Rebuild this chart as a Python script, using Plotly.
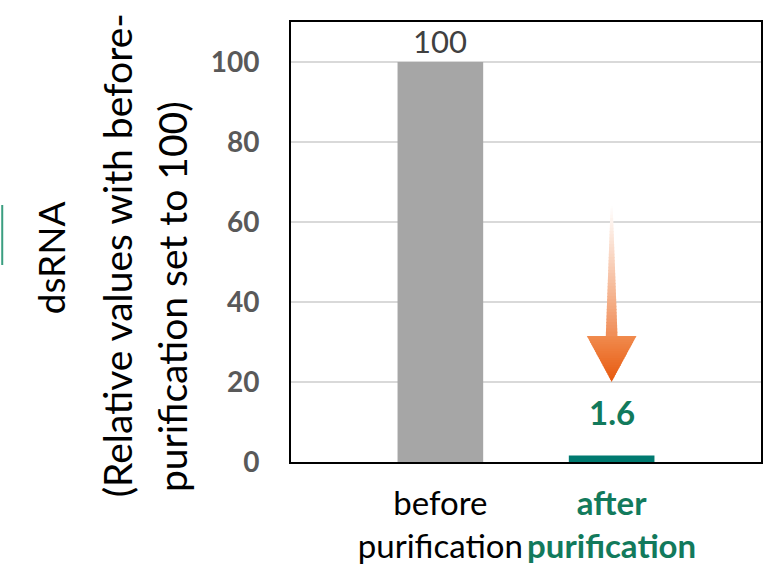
import plotly.graph_objects as go

categories = ["before<br>purification", "after<br>purification"]
values = [100, 1.6]
value_labels = ["100", "1.6"]
bar_colors = ["#A6A6A6", "#007A70"]
y_ticks = [0, 20, 40, 60, 80, 100]

GREEN = "#127A5C"
FONT = "Lato"

xpos = list(range(len(categories)))

fig = go.Figure()
fig.add_trace(go.Bar(
    x=xpos, y=values, width=0.5,
    marker=dict(color=bar_colors, line=dict(width=0)),
    hoverinfo="skip",
))

ticktext = [
    categories[0],
    "<br>".join(f"<b><span style='color:{GREEN}'>{p}</span></b>" for p in categories[1].split("<br>")),
]

# data labels
fig.add_annotation(x=xpos[0], y=values[0], text=value_labels[0], showarrow=False,
                   yanchor="bottom", yshift=0,
                   font=dict(family=FONT, size=31, color="#404040"))
fig.add_annotation(x=xpos[1], y=values[1] + 11, text=f"<b>{value_labels[1]}</b>", showarrow=False,
                   yanchor="middle",
                   font=dict(family=FONT, size=33, color=GREEN))

# gradient arrow pointing down to the "after" bar
shapes = []
cx = xpos[1]
tip_y = values[1] + 18.4
head_y = tip_y + 11.5
top_y = tip_y + 44
head_hw = 0.145
shaft_hw_bot = 0.034
shaft_hw_top = 0.006
OR = (238, 122, 58)


def mix(c, a):
    return tuple(int(255 + (ci - 255) * a) for ci in c)


n = 40
eps = 0.25
for i in range(n):
    ya = top_y - (top_y - head_y) * i / n + (eps if i else 0)
    yb = top_y - (top_y - head_y) * (i + 1) / n
    wa = shaft_hw_top + (shaft_hw_bot - shaft_hw_top) * i / n
    wb = shaft_hw_top + (shaft_hw_bot - shaft_hw_top) * (i + 1) / n
    a = ((i + 0.5) / n) ** 1.1 * 0.85
    r, g, b = mix(OR, a)
    shapes.append(dict(type="path", xref="x", yref="y",
                       path=f"M {cx-wa} {ya} L {cx+wa} {ya} L {cx+wb} {yb} L {cx-wb} {yb} Z",
                       fillcolor=f"rgb({r},{g},{b})", line=dict(width=0), layer="above"))
m = 20
for i in range(m):
    ya = head_y - (head_y - tip_y) * i / m + (eps if i else 0)
    yb = head_y - (head_y - tip_y) * (i + 1) / m
    wa = head_hw * (1 - i / m) + (0.002 if i else 0)
    wb = head_hw * (1 - (i + 1) / m)
    t = (i + 0.5) / m
    r = int(241 - 9 * t); g = int(140 - 50 * t); b = int(80 - 65 * t)
    shapes.append(dict(type="path", xref="x", yref="y",
                       path=f"M {cx-wa} {ya} L {cx+wa} {ya} L {cx+wb} {yb} L {cx-wb} {yb} Z",
                       fillcolor=f"rgb({r},{g},{b})", line=dict(width=0), layer="above"))

# small green mark at the left edge
shapes.append(dict(type="line", xref="paper", yref="paper",
                   x0=-290/472, x1=-290/472, y0=(462-205)/440, y1=(462-265)/440,
                   line=dict(color="#3A9E80", width=2)))

# y axis title, three lines
title_lines = ["dsRNA", "(Relative values with before-", "purification set to 100)"]
title_pos = [(-0.512, 0.464), (-0.370, 0.470), (-0.253, 0.375)]
title_sizes = [37, 39, 39]
for txt, (px, py), sz in zip(title_lines, title_pos, title_sizes):
    fig.add_annotation(xref="paper", yref="paper", x=px, y=py, text=txt, textangle=-90,
                       showarrow=False, xanchor="center", yanchor="middle",
                       font=dict(family=FONT, size=sz, color="#000000"))

fig.update_layout(
    width=767, height=569,
    margin=dict(l=291, r=4, t=22, b=107),
    paper_bgcolor="white", plot_bgcolor="white",
    showlegend=False,
    shapes=shapes,
    font=dict(family=FONT),
    xaxis=dict(range=[-0.872, 1.872], tickvals=xpos, ticktext=ticktext,
               showgrid=False, zeroline=False, showline=True, mirror=True,
               linecolor="#000000", linewidth=2, ticks="", ticklabelstandoff=11,
               tickfont=dict(family=FONT, size=33, color="#000000")),
    yaxis=dict(range=[0, 110], tickvals=y_ticks, ticktext=[f"<b>{v}</b>" for v in y_ticks],
               showgrid=True, gridcolor="#D9D9D9", gridwidth=1.5, zeroline=False,
               showline=True, mirror=True, linecolor="#000000", linewidth=2,
               ticks="", ticklabelstandoff=24,
               tickfont=dict(family=FONT, size=28, color="#595959")),
)

fig.write_html("out.html", config={"displayModeBar": False},
               post_script="document.body.style.margin='0';document.body.style.overflow='hidden';")
